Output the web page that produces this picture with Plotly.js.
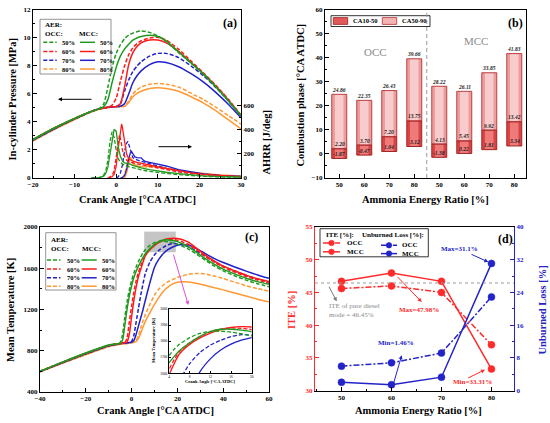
<!DOCTYPE html>
<html><head><meta charset="utf-8">
<script src="https://cdn.plot.ly/plotly-3.0.1.min.js"></script>
<style>html,body{margin:0;padding:0;background:#fff}#c{width:550px;height:423px}</style>
</head><body><div id="c"></div>
<script>
// ---------- DATA ----------
// (a) in-cylinder pressure [MPa]
const crankP = [-20,-15,-10,-6,-4,-3,-2,-1,0,1,2,3,4,5,6,8,10,12,15,18,21,24,27,30];
const pOCC50 = [2.75,3.55,4.25,4.75,4.98,5.3,6.5,7.9,8.9,9.5,9.95,10.2,10.35,10.45,10.5,10.4,10.15,9.75,8.95,8.2,7.4,6.5,5.5,4.45];
const pMCC50 = [2.75,3.55,4.25,4.75,4.95,5.1,5.6,6.8,7.9,8.7,9.2,9.55,9.85,10.0,10.1,10.2,10.1,9.8,9.0,8.22,7.42,6.5,5.5,4.45];
const pOCC60 = [2.75,3.55,4.25,4.75,4.95,5.0,5.05,5.2,5.7,6.9,8.0,8.8,9.3,9.6,9.8,10.0,10.05,9.85,9.2,8.35,7.5,6.6,5.6,4.5];
const pMCC60 = [2.75,3.55,4.25,4.75,4.95,5.0,5.05,5.08,5.1,5.3,6.5,8.1,8.95,9.4,9.65,9.85,9.85,9.65,9.05,8.25,7.45,6.55,5.55,4.45];
const pOCC70 = [2.7,3.5,4.22,4.75,4.95,5.0,5.05,5.08,5.1,5.3,6.2,7.0,7.6,8.0,8.3,8.7,8.9,8.9,8.6,8.0,7.3,6.45,5.5,4.4];
const pMCC70 = [2.7,3.5,4.22,4.75,4.95,5.0,5.05,5.08,5.1,5.12,5.3,6.0,6.8,7.3,7.65,8.1,8.3,8.25,7.95,7.45,6.85,6.1,5.25,4.3];
const pOCC80 = [2.65,3.45,4.18,4.72,4.92,4.98,5.03,5.06,5.08,5.1,5.12,5.5,6.0,6.3,6.5,6.7,6.75,6.7,6.5,6.05,5.6,5.05,4.45,3.85];
const pMCC80 = [2.65,3.45,4.18,4.72,4.92,4.98,5.03,5.06,5.08,5.1,5.12,5.4,5.8,6.05,6.2,6.4,6.45,6.4,6.2,5.8,5.35,4.8,4.15,3.5];
// (a) apparent heat release rate [J/deg]
const hxOCC50 = [-6,-4,-3,-2.5,-2,-1.5,-1,-0.5,0,0.5,1,1.5,2,3,4,5,6,8,10,12,15,18,21,25,30];
const hOCC50  = [0,5,25,60,150,300,385,340,230,160,130,115,105,95,85,75,68,55,45,38,28,20,14,9,6];
const hxMCC50 = [-6,-4,-3,-2.5,-2,-1.5,-1,-0.5,0,0.5,1,1.5,2,3,4,5,6,8,10,12,15,18,21,25,30];
const hMCC50  = [0,3,15,40,90,190,320,405,390,260,180,145,125,120,105,92,85,70,58,48,36,26,18,12,8];
const hxOCC60 = [-2,-1,-0.5,0,0.5,0.8,1.2,1.5,2,2.5,3,4,5,6,8,10,12,15,18,21,25,30];
const hOCC60  = [0,20,60,170,320,360,300,230,180,150,135,125,118,112,98,82,68,50,36,26,17,10];
const hxMCC60 = [-2,-1,-0.5,0,0.5,1,1.3,1.5,2,2.5,3,4,5,6,8,10,12,15,18,21,25,30];
const hMCC60  = [0,10,30,100,250,400,450,420,300,200,160,140,130,125,110,92,78,58,42,30,20,12];
const hxOCC70 = [0,0.5,1,1.5,2,2.5,2.8,3.2,3.6,4,5,6,7,8,10,12,15,18,21,25,30];
const hOCC70  = [0,10,40,110,220,290,305,260,200,170,150,140,125,115,95,80,60,44,32,20,12];
const hxMCC70 = [1,1.5,2,2.5,3,3.4,3.7,4,4.5,5,5.5,6,6.5,7,8,10,12,15,18,21,25,30];
const hMCC70  = [0,5,20,70,160,210,220,200,175,170,172,168,150,138,130,118,100,70,50,35,22,14];
const hxOCC80 = [1.5,2,2.5,3,3.3,3.7,4,5,6,7,8,10,12,15,18,21,25,30];
const hOCC80  = [0,30,110,170,180,150,120,98,96,95,92,85,75,58,44,33,22,15];
const hxMCC80 = [2,2.5,3,3.3,3.6,4,4.5,5,6,7,8,10,12,15,18,21,25,30];
const hMCC80  = [0,40,120,160,165,140,110,100,95,98,100,95,85,65,48,36,25,17];

// (b) combustion phase [°CA ATDC]
const phaseLabels = ['50','60','70','80','50','60','70','80'];
const ca10 = [-1.87,-0.47,1.04,3.12,-1.38,0.22,1.81,3.34];
const ca50 = [2.20,3.70,7.20,13.75,4.13,5.45,9.92,13.42];
const ca90 = [24.86,22.35,26.43,39.66,28.22,26.11,33.85,41.83];

// (c) mean temperature [K]
const crankT = [-40,-30,-20,-10,-6,-5,-4,-3,-2,-1,0,1,2,3,4,5,6,8,10,12,14,16,18,20,22,25,28,32,36,40,45,50,55,60];
const tOCC50 = [600,690,775,852,868,875,950,1120,1270,1390,1480,1555,1615,1665,1710,1750,1780,1822,1848,1860,1862,1856,1846,1832,1815,1783,1742,1680,1623,1575,1527,1485,1450,1421];
const tMCC50 = [600,692,778,855,868,873,900,1040,1200,1330,1430,1510,1570,1620,1665,1705,1740,1790,1830,1860,1874,1874,1868,1858,1840,1805,1760,1695,1640,1592,1545,1503,1470,1444];
const tOCC60 = [600,690,775,852,868,872,875,880,920,1080,1230,1370,1480,1560,1625,1685,1735,1790,1830,1858,1875,1882,1880,1872,1858,1828,1785,1718,1660,1610,1562,1520,1485,1455];
const tMCC60 = [600,690,775,852,868,872,875,878,885,960,1130,1290,1420,1520,1590,1660,1720,1780,1820,1850,1872,1885,1890,1888,1878,1850,1800,1730,1670,1620,1575,1533,1498,1470];
const tOCC70 = [598,686,770,848,865,869,872,875,877,879,890,950,1080,1210,1340,1450,1550,1660,1730,1775,1805,1828,1840,1838,1828,1805,1770,1718,1665,1620,1573,1530,1495,1465];
const tMCC70 = [598,686,770,848,865,869,872,875,877,879,882,900,960,1040,1120,1200,1290,1460,1610,1690,1745,1782,1806,1822,1830,1822,1795,1745,1695,1655,1612,1572,1535,1502];
const tOCC80 = [595,680,762,840,858,862,865,868,871,874,878,885,900,950,1020,1090,1150,1250,1340,1400,1440,1470,1492,1510,1525,1542,1550,1545,1525,1500,1465,1430,1402,1379];
const tMCC80 = [595,680,762,840,858,862,865,868,871,874,878,882,890,920,970,1030,1085,1170,1250,1320,1380,1420,1448,1465,1470,1466,1455,1435,1412,1390,1360,1330,1300,1275];

// (d) ITE and unburned loss [%]
const aer = [50,60,70,80];
const iteOCC = [45.6,46.0,45.0,37.0];
const iteMCC = [46.7,47.98,46.7,33.31];
const ubOCC = [6.0,6.8,9.2,22.9];
const ubMCC = [2.05,1.46,3.3,31.1];
const dieselITE = 46.45;

// ---------- STYLE ----------
const W = 550, H = 423;
const FONT = 'Liberation Serif, Times New Roman, serif';
const GREEN = '#1f9a1f', RED = '#ff1a1a', BLUE = '#2020cc', ORANGE = '#ff9933';
const DRED = '#ff2a2a', DBLUE = '#2323c8';
const OCCDASH = '4px,2px';
const DASHDOT = '6px,2px,2px,2px';

const traces = [];
const shapes = [];
const annotations = [];

function addLine(x, y, color, dash, xa, ya, w, shape) {
  traces.push({type:'scatter', mode:'lines', x:x, y:y, xaxis:xa, yaxis:ya,
    line:{color:color, dash:dash, width:w, shape:shape||'spline', smoothing:0.6},
    showlegend:false, hoverinfo:'skip'});
}
// (a) pressure
[[pOCC80,ORANGE,OCCDASH],[pMCC80,ORANGE,'solid'],[pOCC70,BLUE,OCCDASH],[pMCC70,BLUE,'solid'],
 [pOCC60,RED,OCCDASH],[pMCC60,RED,'solid'],[pOCC50,GREEN,OCCDASH],[pMCC50,GREEN,'solid']]
 .forEach(s => addLine(crankP, s[0], s[1], s[2], 'x', 'y', 1.5));
// (a) AHRR
[[hxOCC80,hOCC80,ORANGE,OCCDASH],[hxMCC80,hMCC80,ORANGE,'solid'],[hxOCC70,hOCC70,BLUE,OCCDASH],[hxMCC70,hMCC70,BLUE,'solid'],
 [hxOCC60,hOCC60,RED,OCCDASH],[hxMCC60,hMCC60,RED,'solid'],[hxOCC50,hOCC50,GREEN,OCCDASH],[hxMCC50,hMCC50,GREEN,'solid']]
 .forEach(s => addLine(s[0], s[1], s[2], s[3], 'x', 'y2', 1.3, 'linear'));
// (c) temperature + inset
const tSeries = [[tOCC80,ORANGE,OCCDASH],[tMCC80,ORANGE,'solid'],[tOCC70,BLUE,OCCDASH],[tMCC70,BLUE,'solid'],
 [tOCC60,RED,OCCDASH],[tMCC60,RED,'solid'],[tOCC50,GREEN,OCCDASH],[tMCC50,GREEN,'solid']];
tSeries.forEach(s => addLine(crankT, s[0], s[1], s[2], 'x3', 'y4', 1.5));
tSeries.forEach(s => addLine(crankT, s[0], s[1], s[2], 'x5', 'y7', 1.3));

// (b) bars
const idx = phaseLabels.map((_, i) => i);
const seg1 = ca50.map((v, i) => v - ca10[i]);
const seg2 = ca90.map((v, i) => v - ca50[i]);
function addBar(y, base, color, width, line) {
  traces.push({type:'bar', x:idx, y:y, base:base, width:width, xaxis:'x2', yaxis:'y3',
    marker:{color:color, line:line || {width:0}}, showlegend:false, hoverinfo:'skip'});
}
addBar(seg1, ca10, '#d84444', 0.6);
addBar(seg2, ca50, '#ec9d9d', 0.6);
addBar(seg1, ca10, '#ee7a7a', 0.34);
addBar(seg2, ca50, '#f8cccc', 0.34);
addBar(seg1, ca10, 'rgba(0,0,0,0)', 0.6, {color:'#9b1c1c', width:0.9});
addBar(seg2, ca50, 'rgba(0,0,0,0)', 0.6, {color:'#b53030', width:0.9});
idx.forEach(i => {
  [ca10[i], ca50[i], ca90[i]].forEach(v => {
    annotations.push({xref:'x2', yref:'y3', x:i, y:v, text:v.toFixed(2), showarrow:false,
      yanchor:'bottom', xanchor:'center', yshift:-0.5,
      font:{family:FONT, size:5.5, color:'#222', weight:'bold', style:'italic'}});
  });
});

// (d) ITE / unburned
function addMk(y, color, dash, ya) {
  traces.push({type:'scatter', mode:'lines+markers', x:aer, y:y, xaxis:'x4', yaxis:ya,
    line:{color:color, dash:dash, width:1.5},
    marker:{symbol:'circle', size:7, color:color, line:{color:color, width:0.5}},
    showlegend:false, hoverinfo:'skip'});
}
addMk(iteOCC, DRED, DASHDOT, 'y5');
addMk(iteMCC, DRED, 'solid', 'y5');
addMk(ubOCC, DBLUE, DASHDOT, 'y6');
addMk(ubMCC, DBLUE, 'solid', 'y6');

// ---------- HELPERS (paper px) ----------
const px = v => v / W, py = v => 1 - v / H;
function txt(x, y, text, o) {
  o = o || {};
  annotations.push({xref:'paper', yref:'paper', x:px(x), y:py(y), text:text, showarrow:false,
    xanchor:o.xa || 'center', yanchor:o.ya || 'middle', textangle:o.angle || 0,
    font:{family:FONT, size:o.size || 7, color:o.color || '#000', weight:o.weight || 'bold', style:'normal'}});
}
function arrow(hx, hy, tx, ty, color) {
  annotations.push({xref:'paper', yref:'paper', x:px(hx), y:py(hy), ax:tx - hx, ay:ty - hy, text:'',
    showarrow:true, arrowhead:2, arrowsize:0.8, arrowwidth:1, arrowcolor:color || '#000'});
}
function seg(x0, y0, x1, y1, color, dash, w) {
  shapes.push({type:'line', xref:'paper', yref:'paper', x0:px(x0), y0:py(y0), x1:px(x1), y1:py(y1),
    line:{color:color, dash:dash || 'solid', width:w || 1.5}});
}
function box(x0, y0, x1, y1, fill, lc) {
  shapes.push({type:'rect', xref:'paper', yref:'paper', x0:px(x0), y0:py(y0), x1:px(x1), y1:py(y1),
    fillcolor:fill || 'rgba(0,0,0,0)', line:{color:lc || '#000', width:0.8}});
}
function dot(x, y, r, color) {
  shapes.push({type:'circle', xref:'paper', yref:'paper', x0:px(x - r), y0:py(y + r), x1:px(x + r), y1:py(y - r),
    fillcolor:color, line:{color:color, width:0.5}});
}

// AER legends for (a) and (c)
function aerLegend(bx0, by0, bx1, by1, hdrY, colY, rows, lx0, lx1, tx0, rx0, rx1, rt0, mccX) {
  box(bx0, by0, bx1, by1, '#fff', '#777');
  txt(bx0 + 3, hdrY, 'AER:', {xa:'left', size:7});
  txt(bx0 + 3, colY, 'OCC:', {xa:'left', size:7});
  txt(mccX, colY, 'MCC:', {xa:'left', size:7});
  const cols = [GREEN, RED, BLUE, ORANGE], labs = ['50%','60%','70%','80%'];
  rows.forEach((ry, i) => {
    seg(lx0, ry, lx1, ry, cols[i], OCCDASH, 1.5);
    txt(tx0, ry, labs[i], {xa:'left', size:6.5});
    seg(rx0, ry, rx1, ry, cols[i], 'solid', 1.5);
    txt(rt0, ry, labs[i], {xa:'left', size:6.5});
  });
}
aerLegend(40, 19.3, 111, 74, 25, 34, [42.3, 51.5, 60.3, 69], 43.3, 56.7, 60, 80, 95, 98.3, 77);
aerLegend(45.7, 232.7, 116, 290, 240, 249.3, [260, 269, 277.8, 286.2], 47, 60.5, 65, 81.7, 96.7, 100, 80);

// (a) texts
txt(137, 199, 'Crank Angle [°CA ATDC]', {size:10.5});
txt(11.5, 100, 'In-cylinder Pressure [MPa]', {size:10.5, angle:-90});
txt(266.5, 143, 'AHRR [J/deg]', {size:10.5, angle:-90});
txt(230, 22.7, '(a)', {size:12});
arrow(58, 99.3, 93, 99.3);
arrow(192, 146.7, 157, 146.7);

// (b) texts
txt(425, 199, 'Ammonia Energy Ratio [%]', {size:10.5});
txt(299.5, 95, 'Combustion phase [°CA ATDC]', {size:10.5, angle:-90});
txt(515, 22.7, '(b)', {size:12});
txt(375, 51.7, 'OCC', {size:11, weight:'normal', color:'#8a8a8a'});
txt(476, 40.7, 'MCC', {size:11, weight:'normal', color:'#8a8a8a'});
box(331, 15.7, 430, 26.5, '#fff', '#000');
box(333.3, 17.6, 347.7, 24.4, '#e05a5a', '#9b1c1c');
txt(351, 21, 'CA10-50', {xa:'left', size:6.5});
box(382.3, 17.6, 396.7, 24.4, '#f2b4b4', '#b53030');
txt(400, 21, 'CA50-90', {xa:'left', size:6.5});
shapes.push({type:'line', xref:'x2', x0:3.5, x1:3.5, yref:'y3 domain', y0:0, y1:1,
  line:{color:'#999', dash:'4px,3px', width:1}});

// (c) texts
txt(155, 410, 'Crank Angle [°CA ATDC]', {size:10.5});
txt(10, 310, 'Mean Temperature [K]', {size:10.5, angle:-90});
txt(251.7, 236.7, '(c)', {size:12});
shapes.push({type:'rect', xref:'x3', yref:'y4', x0:5.5, x1:19.3, y0:1755, y1:1955,
  fillcolor:'rgba(150,150,150,0.55)', line:{width:0}, layer:'below'});
arrow(188.3, 305, 173, 253, '#e050e0');
txt(210, 381.5, 'Crank Angle [°CA ATDC]', {size:4.5});
txt(153, 341, 'Mean Temperature [K]', {size:4.5, angle:-90});

// (d) texts
txt(418, 410, 'Ammonia Energy Ratio [%]', {size:10.5});
txt(291, 310, 'ITE [%]', {size:10.5, angle:-90, color:DRED});
txt(541.5, 310, 'Unburned Loss [%]', {size:10.5, angle:-90, color:DBLUE});
txt(505, 238.7, '(d)', {size:12});
shapes.push({type:'line', xref:'x4 domain', x0:0, x1:1, yref:'y5', y0:dieselITE, y1:dieselITE,
  line:{color:'#9a9a9a', dash:'dot', width:1}});
txt(327, 306, 'ITE of pure diesel', {xa:'left', size:7, weight:'normal', color:'#8a8a8a'});
txt(327, 315, 'mode = ' + dieselITE.toFixed(2) + '%', {xa:'left', size:7, weight:'normal', color:'#8a8a8a'});
arrow(336.7, 301.3, 328.3, 285.3, '#777');
const iteMax = Math.max(...iteMCC), iteMin = Math.min(...iteMCC);
const ubMax = Math.max(...ubMCC), ubMin = Math.min(...ubMCC);
txt(419, 310, 'Max=' + iteMax.toFixed(2) + '%', {size:7, color:DRED});
arrow(421.7, 302, 396, 275.3, DRED);
txt(472, 382, 'Min=' + iteMin.toFixed(2) + '%', {size:7, color:DRED});
arrow(485, 369.7, 466.7, 378.7, DRED);
txt(459, 248.7, 'Max=' + ubMax.toFixed(1) + '%', {size:7, color:DBLUE});
arrow(488.3, 262, 470, 253.7, DBLUE);
txt(396, 343, 'Min=' + ubMin.toFixed(2) + '%', {size:7, color:DBLUE});
arrow(401.7, 355.3, 393.3, 384.3, DBLUE);
// (d) legend
box(320, 228.7, 428.3, 256.8, '#fff', '#000');
txt(323.5, 234.5, 'ITE [%]:', {xa:'left', size:7});
txt(360, 234.5, 'Unburned Loss [%]:', {xa:'left', size:7});
seg(323, 243, 340, 243, DRED, DASHDOT, 1.5); dot(331.5, 243, 2.8, DRED);
txt(345, 243, 'OCC', {xa:'left', size:7});
seg(323, 251.8, 340, 251.8, DRED, 'solid', 1.5); dot(331.5, 251.8, 2.8, DRED);
txt(345, 251.8, 'MCC', {xa:'left', size:7});
seg(381, 245.3, 397, 245.3, DBLUE, DASHDOT, 1.5); dot(389, 245.3, 2.8, DBLUE);
txt(400, 245.3, 'OCC', {xa:'left', size:7});
seg(381, 253.6, 397, 253.6, DBLUE, 'solid', 1.5); dot(389, 253.6, 2.8, DBLUE);
txt(400, 253.6, 'MCC', {xa:'left', size:7});

// ---------- AXES ----------
function ax(o) {
  const base = {showline:true, linecolor:'#000', linewidth:1, ticks:'inside', ticklen:4, tickwidth:1,
    tickcolor:'#000', showgrid:false, zeroline:false, mirror:true, fixedrange:true,
    tickfont:{family:FONT, size:7, color:'#000', weight:'bold'}};
  return Object.assign(base, o);
}
const minor = (d, c) => ({dtick:d, ticks:'inside', ticklen:2, tickcolor:c || '#000', showgrid:false});

const layout = {
  width:W, height:H, margin:{l:0, r:0, t:0, b:0}, paper_bgcolor:'#fff', plot_bgcolor:'rgba(0,0,0,0)',
  showlegend:false, hovermode:false, barmode:'overlay',
  xaxis: ax({domain:[0.06,0.4382], anchor:'y', range:[-20,30], dtick:10, tick0:0, minor:minor(5)}),
  yaxis: ax({domain:[0.5792,0.9764], anchor:'x', range:[0,12], dtick:2, tick0:0, minor:minor(1)}),
  yaxis2: ax({overlaying:'y', side:'right', anchor:'x', range:[0,1400], tickmode:'array',
    tickvals:[0,200,400,600], mirror:false, minor:{tickvals:[100,300,500], ticks:'inside', ticklen:2}}),
  xaxis2: ax({domain:[0.5909,0.9564], anchor:'y3', range:[-0.57,7.47], tickmode:'array',
    tickvals:idx, ticktext:phaseLabels}),
  yaxis3: ax({domain:[0.5792,0.9764], anchor:'x2', range:[-10,60], dtick:10, tick0:0, minor:minor(5)}),
  xaxis3: ax({domain:[0.0727,0.4891], anchor:'y4', range:[-40,60], dtick:20, tick0:0, minor:minor(10)}),
  yaxis4: ax({domain:[0.0733,0.4634], anchor:'x3', range:[400,2000], dtick:400, tick0:400, minor:minor(200)}),
  xaxis4: ax({domain:[0.5727,0.9345], anchor:'y5', range:[44.7,84.5], tickmode:'array', tickvals:aer,
    minor:{tickvals:[45,55,65,75], ticks:'inside', ticklen:2}}),
  yaxis5: ax({domain:[0.0764,0.4634], anchor:'x4', range:[30,55], dtick:5, tick0:30, mirror:false,
    linecolor:DRED, tickcolor:DRED, tickfont:{family:FONT, size:7, color:DRED, weight:'bold'}, minor:minor(2.5, DRED)}),
  yaxis6: ax({overlaying:'y5', side:'right', anchor:'x4', range:[0,40], dtick:8, tick0:0, mirror:false,
    linecolor:DBLUE, tickcolor:DBLUE, tickfont:{family:FONT, size:7, color:DBLUE, weight:'bold'}, minor:minor(4, DBLUE)}),
  xaxis5: ax({domain:[0.3073,0.4576], anchor:'y7', range:[4,20], dtick:4, tick0:4, ticklen:2,
    tickfont:{family:FONT, size:3.5, color:'#000'}}),
  yaxis7: ax({domain:[0.1175,0.2695], anchor:'x5', range:[1600,2000], dtick:100, tick0:1600, ticklen:2,
    tickfont:{family:FONT, size:3.5, color:'#000'}}),
  shapes:shapes, annotations:annotations
};
Plotly.newPlot('c', traces, layout, {staticPlot:true, displayModeBar:false});
</script></body></html>
